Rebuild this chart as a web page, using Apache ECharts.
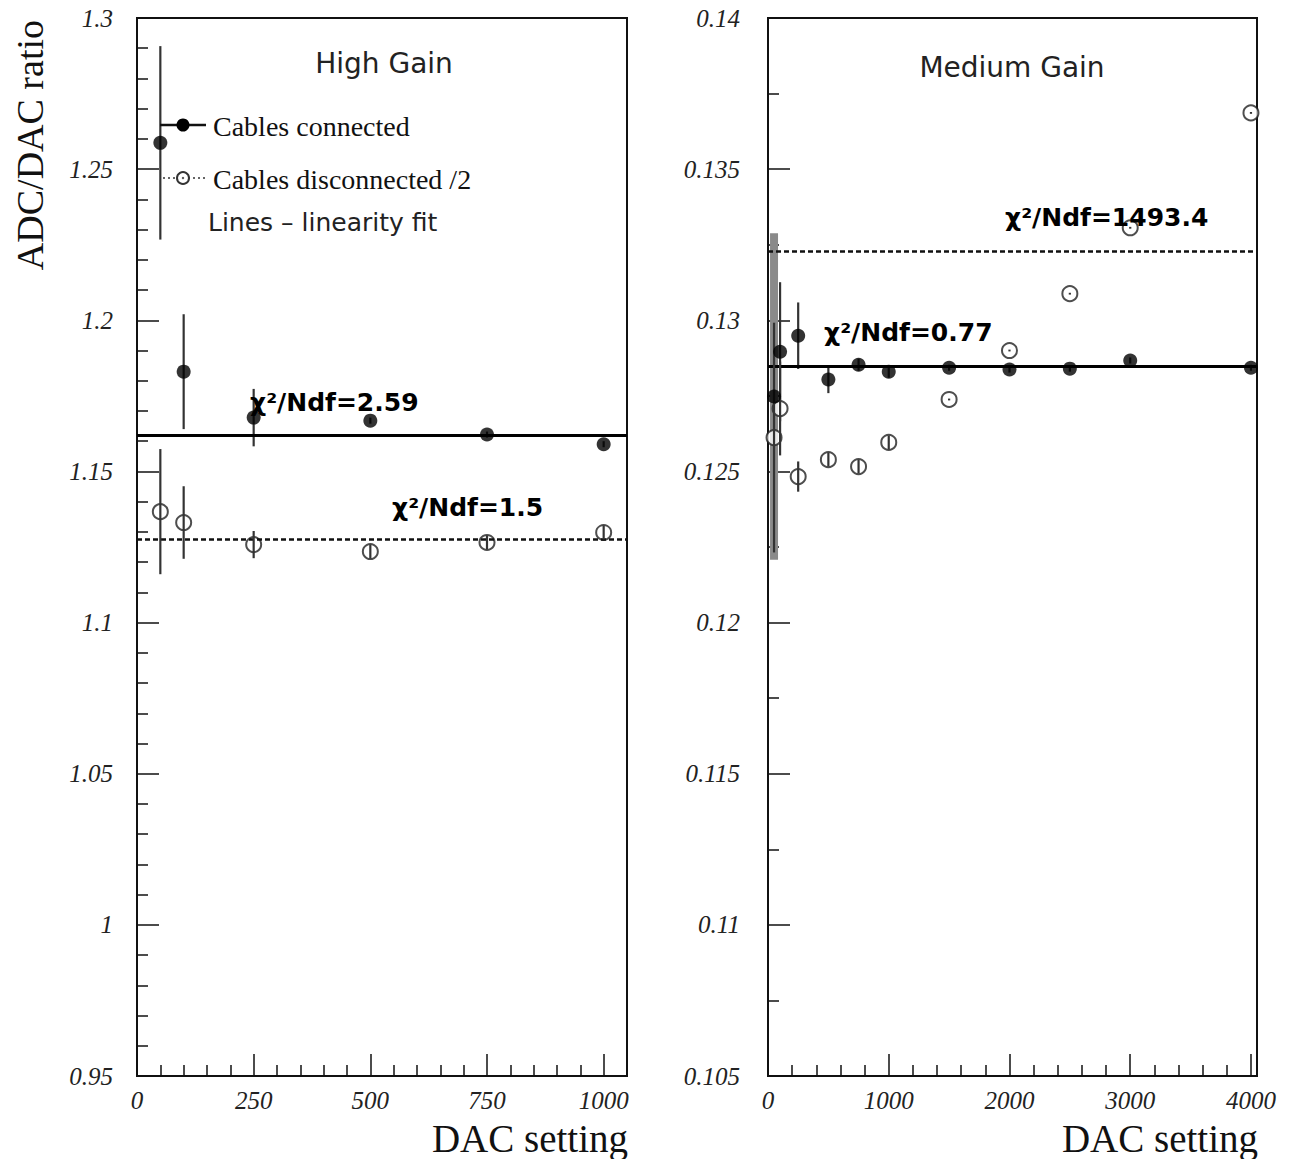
<!DOCTYPE html>
<html><head><meta charset="utf-8">
<script src="https://cdn.jsdelivr.net/npm/echarts@6/dist/echarts.min.js"></script>
<style>html,body{margin:0;padding:0;background:#fff}#c{width:1302px;height:1159px}</style>
</head><body><div id="c"></div>
<script>
// ---------- data ----------
const dacHigh = [50, 100, 250, 500, 750, 1000];
const highConnected = [1.2587, 1.183, 1.1678, 1.1668, 1.1622, 1.159];
const highConnectedErr = [0.032, 0.019, 0.0095, 0.001, 0.001, 0.001];
const highDisconnected = [1.1367, 1.1331, 1.1258, 1.1235, 1.1265, 1.1298];
const highDisconnectedErr = [0.0207, 0.012, 0.0045, 0.001, 0.001, 0.001];
const highConnectedFit = 1.1619;
const highDisconnectedFit = 1.1275;

const dacMedium = [50, 100, 250, 500, 750, 1000, 1500, 2000, 2500, 3000, 4000];
const mediumConnected = [0.12748, 0.12896, 0.12949, 0.12804, 0.12853, 0.1283, 0.12843, 0.12837, 0.1284, 0.12867, 0.12843];
const mediumConnectedErr = [0.0054, 0.0023, 0.0011, 0.00045, 0.0002, 0.0002, 0.0001, 0.0001, 0.0001, 0.0001, 0.0001];
const mediumDisconnected = [0.12612, 0.12708, 0.12483, 0.12539, 0.12516, 0.12596, 0.12738, 0.129, 0.13088, 0.13306, 0.13686];
const mediumDisconnectedErr = [0.0038, 0.00155, 0.0005, 0.0002, 0.0002, 0.0001, 0.00003, 0.00003, 0.00003, 0.00003, 0.00003];
const mediumConnectedFit = 0.12847;
const mediumDisconnectedFit = 0.13227;

const highXTicks = [0, 250, 500, 750, 1000];
const highYTicks = [0.95, 1, 1.05, 1.1, 1.15, 1.2, 1.25, 1.3];
const mediumXTicks = [0, 1000, 2000, 3000, 4000];
const mediumYTicks = [0.105, 0.11, 0.115, 0.12, 0.125, 0.13, 0.135, 0.14];

const chiHighConnected = 'χ²/Ndf=2.59';
const chiHighDisconnected = 'χ²/Ndf=1.5';
const chiMediumConnected = 'χ²/Ndf=0.77';
const chiMediumDisconnected = 'χ²/Ndf=1493.4';

// minor tick positions (axis decoration)
function minorTicks(min, max, step, majors) {
  const out = [];
  const n = Math.round((max - min) / step);
  for (let i = 0; i <= n; i++) {
    const v = +(min + i * step).toFixed(6);
    if (!majors.some(m => Math.abs(m - v) < step / 10)) out.push(v);
  }
  return out;
}
const highXMinor = minorTicks(0, 1000, 50, highXTicks);
const highYMinor = minorTicks(0.95, 1.3, 0.01, highYTicks);
const mediumXMinor = minorTicks(0, 4000, 200, mediumXTicks);
const mediumYMinor = minorTicks(0.105, 0.14, 0.0025, mediumYTicks);

// ---------- styling ----------
const tickFont = {fontFamily: 'Liberation Serif', fontStyle: 'italic', fontSize: 25, color: '#222'};
const fmt = v => String(+(+v).toFixed(4));

function mainX(grid, max, ticks) {
  return {gridIndex: grid, type: 'value', min: 0, max: max, position: 'bottom',
    axisLine: {show: true, lineStyle: {color: '#111', width: 2}},
    splitLine: {show: false},
    axisTick: {show: true, inside: true, length: 22, customValues: ticks, lineStyle: {color: '#111', width: 1.5}},
    axisLabel: Object.assign({customValues: ticks, formatter: fmt, margin: 12}, tickFont)};
}
function minorX(grid, max, ticks) {
  return {gridIndex: grid, type: 'value', min: 0, max: max, position: 'bottom', offset: 0,
    axisLine: {show: false}, splitLine: {show: false}, axisLabel: {show: false},
    axisTick: {show: true, inside: true, length: 11, customValues: ticks, lineStyle: {color: '#111', width: 1.5}}};
}
function mainY(grid, min, max, ticks, margin) {
  return {gridIndex: grid, type: 'value', min: min, max: max, position: 'left',
    axisLine: {show: true, lineStyle: {color: '#111', width: 2}},
    splitLine: {show: false},
    axisTick: {show: true, inside: true, length: 22, customValues: ticks, lineStyle: {color: '#111', width: 1.5}},
    axisLabel: Object.assign({customValues: ticks, formatter: fmt, margin: margin}, tickFont)};
}
function minorY(grid, min, max, ticks) {
  return {gridIndex: grid, type: 'value', min: min, max: max, position: 'left', offset: 0,
    axisLine: {show: false}, splitLine: {show: false}, axisLabel: {show: false},
    axisTick: {show: true, inside: true, length: 11, customValues: ticks, lineStyle: {color: '#111', width: 1.5}}};
}

function errRender(minHalf) {
  return function (params, api) {
    const x = api.value(0), y = api.value(1), e = api.value(2);
    const c = api.coord([x, y]);
    const top = api.coord([x, y + e]), bot = api.coord([x, y - e]);
    let y1 = top[1], y2 = bot[1];
    if (c[1] - y1 < minHalf && c[1] - y1 > 1.5) { y1 = c[1] - minHalf; y2 = c[1] + minHalf; }
    const half = (y2 - y1) / 2;
    const wide = half > 130;
    return {type: 'line', shape: {x1: c[0], y1: y1, x2: c[0], y2: y2},
      style: {stroke: wide ? '#8a8a8a' : '#333', lineWidth: wide ? 8 : 2.2}};
  };
}
function zip(xs, ys, es) { return xs.map((x, i) => [x, ys[i], es[i]]); }
function pts(xs, ys) { return xs.map((x, i) => [x, ys[i]]); }

function panelSeries(xi, yi, dac, con, conErr, dis, disErr, conFit, disFit) {
  return [
    {type: 'custom', xAxisIndex: xi, yAxisIndex: yi, renderItem: errRender(0), data: zip(dac, con, conErr), z: 3, silent: true},
    {type: 'scatter', xAxisIndex: xi, yAxisIndex: yi, data: pts(dac, dis), symbol: 'circle', symbolSize: 15,
      itemStyle: {color: '#fff', borderColor: '#222', borderWidth: 2}, z: 4,
      markLine: {silent: true, symbol: 'none', precision: 8, label: {show: false},
        lineStyle: {color: '#111', width: 2.5, type: [5, 3]}, data: [{yAxis: disFit}]}},
    {type: 'custom', xAxisIndex: xi, yAxisIndex: yi, renderItem: errRender(7), data: zip(dac, dis, disErr), z: 5, silent: true},
    {type: 'scatter', xAxisIndex: xi, yAxisIndex: yi, data: pts(dac, con), symbol: 'circle', symbolSize: 14,
      itemStyle: {color: '#000'}, z: 6,
      markLine: {silent: true, symbol: 'none', precision: 8, label: {show: false},
        lineStyle: {color: '#000', width: 3, type: 'solid'}, data: [{yAxis: conFit}]}}
  ];
}

const chiFont = {fontFamily: 'DejaVu Sans', fontWeight: 'bold', fontSize: 25, fill: '#000'};
function txt(x, y, s, extra) {
  return {type: 'text', x: x, y: y, z: 100, style: Object.assign({text: s, verticalAlign: 'middle'}, extra)};
}

const chart = echarts.init(document.getElementById('c'), null, {renderer: 'svg'});
chart.setOption({
  animation: false,
  backgroundColor: '#fff',
  grid: [
    {left: 137, top: 18, width: 490, height: 1058, show: true, borderColor: '#111', borderWidth: 2, backgroundColor: 'transparent'},
    {left: 768, top: 18, width: 489, height: 1058, show: true, borderColor: '#111', borderWidth: 2, backgroundColor: 'transparent'}
  ],
  xAxis: [mainX(0, 1050, highXTicks), minorX(0, 1050, highXMinor), mainX(1, 4050, mediumXTicks), minorX(1, 4050, mediumXMinor)],
  yAxis: [mainY(0, 0.95, 1.3, highYTicks, 24), minorY(0, 0.95, 1.3, highYMinor), mainY(1, 0.105, 0.14, mediumYTicks, 28), minorY(1, 0.105, 0.14, mediumYMinor)],
  series: [].concat(
    panelSeries(0, 0, dacHigh, highConnected, highConnectedErr, highDisconnected, highDisconnectedErr, highConnectedFit, highDisconnectedFit),
    panelSeries(2, 2, dacMedium, mediumConnected, mediumConnectedErr, mediumDisconnected, mediumDisconnectedErr, mediumConnectedFit, mediumDisconnectedFit)
  ),
  graphic: [
    // axis titles
    {type: 'text', x: 30, y: 20, rotation: Math.PI / 2, z: 100,
      style: {text: 'ADC/DAC ratio', fontFamily: 'Liberation Serif', fontSize: 38, fill: '#111', align: 'right', verticalAlign: 'middle'}},
    txt(628, 1138, 'DAC setting', {fontFamily: 'Liberation Serif', fontSize: 39, fill: '#111', align: 'right'}),
    txt(1258, 1138, 'DAC setting', {fontFamily: 'Liberation Serif', fontSize: 39, fill: '#111', align: 'right'}),
    // panel titles
    txt(384, 63, 'High Gain', {fontFamily: 'DejaVu Sans', fontSize: 28, fill: '#222', align: 'center'}),
    txt(1012, 67, 'Medium Gain', {fontFamily: 'DejaVu Sans', fontSize: 28, fill: '#222', align: 'center'}),
    // legend
    {type: 'line', z: 100, shape: {x1: 160, y1: 125, x2: 206, y2: 125}, style: {stroke: '#111', lineWidth: 2.5}},
    {type: 'circle', z: 101, shape: {cx: 183, cy: 125, r: 6.5}, style: {fill: '#000'}},
    txt(213, 126, 'Cables connected', {fontFamily: 'Liberation Serif', fontSize: 28, fill: '#111', align: 'left'}),
    {type: 'line', z: 100, shape: {x1: 163, y1: 178, x2: 206, y2: 178}, style: {stroke: '#333', lineWidth: 1.5, lineDash: [2, 3]}},
    {type: 'circle', z: 101, shape: {cx: 183, cy: 178, r: 6}, style: {fill: '#fff', stroke: '#333', lineWidth: 2}},
    {type: 'circle', z: 102, shape: {cx: 183, cy: 178, r: 1.2}, style: {fill: '#555'}},
    txt(213, 179, 'Cables disconnected /2', {fontFamily: 'Liberation Serif', fontSize: 28, fill: '#111', align: 'left'}),
    txt(208, 222, 'Lines – linearity fit', {fontFamily: 'DejaVu Sans', fontSize: 25, fill: '#222', align: 'left'}),
    // chi2 annotations
    txt(250, 402, chiHighConnected, Object.assign({align: 'left'}, chiFont)),
    txt(392, 507, chiHighDisconnected, Object.assign({align: 'left'}, chiFont)),
    txt(824, 332, chiMediumConnected, Object.assign({align: 'left'}, chiFont)),
    txt(1005, 217, chiMediumDisconnected, Object.assign({align: 'left'}, chiFont))
  ]
});
</script>
</body></html>
